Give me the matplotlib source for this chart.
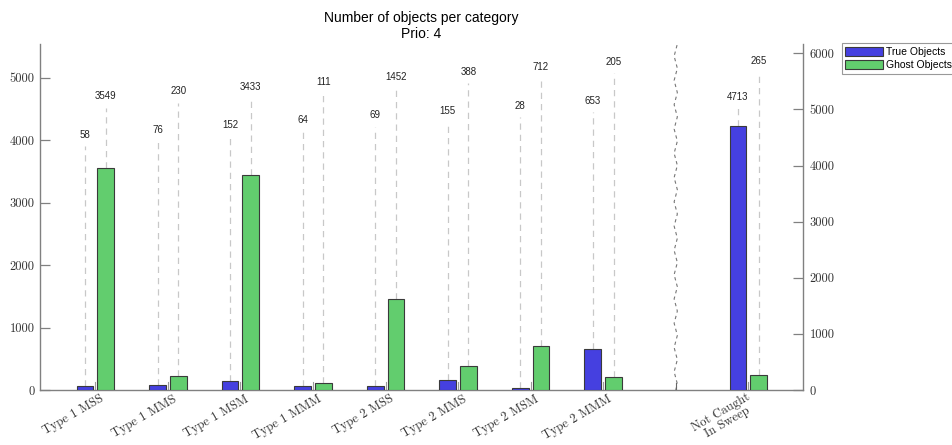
import numpy as np
import matplotlib
matplotlib.use("Agg")
import matplotlib.pyplot as plt
from matplotlib.patches import Patch
from matplotlib.transforms import ScaledTranslation, blended_transform_factory

# ---- data ----
categories = ['Type 1 MSS', 'Type 1 MMS', 'Type 1 MSM', 'Type 1 MMM',
              'Type 2 MSS', 'Type 2 MMS', 'Type 2 MSM', 'Type 2 MMM']
true_objects = [58, 76, 152, 64, 69, 155, 28, 653]
ghost_objects = [3549, 230, 3433, 111, 1452, 388, 712, 205]
extra_category = 'Not Caught\nIn Sweep'
extra_true = 4713
extra_ghost = 265
left_ticks = [0, 1000, 2000, 3000, 4000, 5000]
right_ticks = [0, 1000, 2000, 3000, 4000, 5000, 6000]

# ---- styling ----
BLUE = '#4540E0'
GREEN = '#62CD6E'
EDGE = '#3a3a3a'
SPINE = '#808080'
DASH = '#c8c8c8'
SANS = ['Liberation Sans', 'DejaVu Sans']
SERIF = 'cmr10'

W, H, DPI = 952, 445, 100
fig = plt.figure(figsize=(W / DPI, H / DPI), dpi=DPI)
ax = fig.add_axes([40 / W, 1 - 390 / H, (802.7 - 40) / W, (390 - 44) / H])
ax2 = ax.twinx()

n = len(categories)
x = np.arange(n)
x_extra = n + 1          # one empty slot for the axis break
x_break = n
bw = 0.23
off = 0.143

ax.set_xlim(-0.763, 9.75)
ax.set_ylim(0, 5536)
ax2.set_ylim(0, 6166)

ax.bar(x - off, true_objects, bw, color=BLUE, edgecolor=EDGE, linewidth=0.8, zorder=3)
ax.bar(x + off, ghost_objects, bw, color=GREEN, edgecolor=EDGE, linewidth=0.8, zorder=3)
ax2.bar([x_extra - off], [extra_true], bw, color=BLUE, edgecolor=EDGE, linewidth=0.8, zorder=3)
ax2.bar([x_extra + off], [extra_ghost], bw, color=GREEN, edgecolor=EDGE, linewidth=0.8, zorder=3)

# short grey separators between the paired bars
sep_tr = blended_transform_factory(ax.transData, ax.transAxes)
for xi in list(x) + [x_extra]:
    ax.plot([xi, xi], [0, 0.023], color='#9a9a9a', lw=0.8, transform=sep_tr, zorder=2)

# value labels with dashed leader lines (staggered heights)
lab_base, lab_step, lab_gap, lead_gap = 4080, 78, 620, 180
for i in range(n):
    ty = lab_base + lab_step * i
    gy = ty + lab_gap
    for xb, val, ly in ((x[i] - off, true_objects[i], ty), (x[i] + off, ghost_objects[i], gy)):
        ax.plot([xb, xb], [val, ly - lead_gap], ls=(0, (5, 4)), color=DASH, lw=0.9, zorder=1)
        ax.text(xb, ly, str(val), ha='center', va='center', fontsize=7,
                family=SANS, color='#222222')

for xb, val, ly in ((x_extra - off, extra_true, 5230), (x_extra + off, extra_ghost, 5855)):
    ax2.plot([xb, xb], [val, ly - 200], ls=(0, (5, 4)), color=DASH, lw=0.9, zorder=1)
    ax2.text(xb, ly, str(val), ha='center', va='center', fontsize=7,
             family=SANS, color='#222222')

# wavy break marker
x0, x1 = ax.get_xlim()
bx = (x_break - x0) / (x1 - x0)
ys = np.linspace(0, 1, 58)
amp = 1.6 / 762.7
xs = bx + amp * np.sin(np.arange(len(ys)) * np.pi / 2)
ax.plot(xs, ys, transform=ax.transAxes, color='#777777', lw=0.8,
        ls=(0, (3, 3)), clip_on=False, zorder=2)
ax.plot([bx, bx], [0, 0.02], transform=ax.transAxes, color='#666666', lw=0.8)

# axes styling
for a in (ax, ax2):
    a.spines['top'].set_visible(False)
    for s in ('left', 'right', 'bottom'):
        a.spines[s].set_color(SPINE)
        a.spines[s].set_linewidth(1.0)
ax.spines['right'].set_visible(False)
ax2.spines['left'].set_visible(False)
ax2.spines['bottom'].set_visible(False)

ax.set_yticks(left_ticks)
ax.set_yticklabels([str(t) for t in left_ticks], family=SERIF, fontsize=9, color='#333333')
ax2.set_yticks(right_ticks)
ax2.set_yticklabels([str(t) for t in right_ticks], family=SERIF, fontsize=9, color='#333333')
ax.tick_params(axis='y', direction='in', length=7, width=0.9, color=SPINE, pad=4)
ax2.tick_params(axis='y', direction='in', length=7, width=0.9, color=SPINE, pad=5)

ax.set_xticks(list(x) + [x_extra])
ax.set_xticklabels(categories + [extra_category], family=SERIF, fontsize=9,
                   color='#333333', rotation=30, ha='right', va='top',
                   rotation_mode='anchor', multialignment='center', linespacing=1.0)
ax.tick_params(axis='x', length=0, pad=2)
xlabels = ax.get_xticklabels()
for lbl in xlabels[:-1]:
    lbl.set_transform(lbl.get_transform() + ScaledTranslation(4.5 / DPI, 0, fig.dpi_scale_trans))
xlabels[-1].set_transform(xlabels[-1].get_transform()
                          + ScaledTranslation(-2 / DPI, 2 / DPI, fig.dpi_scale_trans))

ax.set_title('Number of objects per category\nPrio: 4', family=SANS, fontsize=10,
             linespacing=1.25, pad=4)

handles = [Patch(facecolor=BLUE, edgecolor=EDGE, lw=0.8),
           Patch(facecolor=GREEN, edgecolor=EDGE, lw=0.8)]
leg = fig.legend(handles, ['True Objects', 'Ghost Objects'], loc='upper left',
                 bbox_to_anchor=(841.5 / W, 1 - 43 / H), prop={'family': SANS, 'size': 7.5},
                 frameon=True, fancybox=False, framealpha=1, edgecolor='#999999',
                 handlelength=3.6, handleheight=1.0, handletextpad=0.3,
                 labelspacing=0.3, borderpad=0.35, borderaxespad=0)
leg.get_frame().set_linewidth(0.8)

fig.savefig('out.png', dpi=DPI)
